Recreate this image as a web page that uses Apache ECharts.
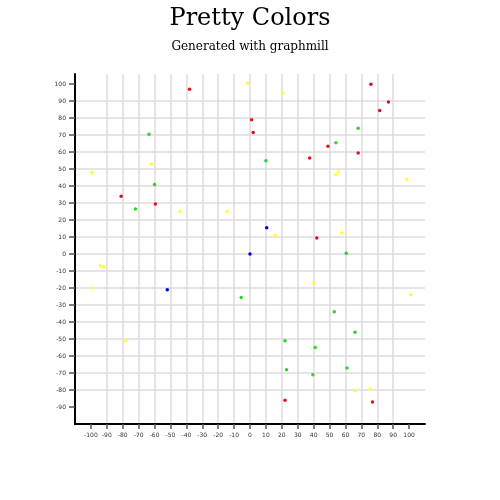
<!DOCTYPE html>
<html lang="en" style="height: 100%">
<head>
  <meta charset="utf-8">
</head>
<body style="height: 100%; margin: 0; background: #fff">
  <div id="container" style="height: 100%"></div>

<script type="text/javascript" src="https://cdn.jsdelivr.net/npm/echarts@6/dist/echarts.min.js"></script>

<script type="text/javascript">
// points per colour as [x, y]
var redPoints = [
  [-38, 97], [1, 79], [2, 71.5], [-81, 34], [-59.5, 29.5], [76, 100],
  [87, 89.5], [81.5, 84.5], [49, 63.5], [68, 59.5], [37.5, 56.5],
  [42, 9.5], [22, -86], [77, -87]
];
var greenPoints = [
  [-63.5, 70.5], [-60, 41], [-72, 26.5], [68, 74], [54, 65.5], [10, 55],
  [60.5, 0.5], [-5.5, -25.5], [53, -34], [66, -46], [22, -51],
  [41, -55], [23, -68], [61, -67], [39.5, -71]
];
var yellowPoints = [
  [-1.5, 100.5], [20.5, 95], [-62, 53], [-99.5, 48], [-44, 25], [-14.5, 25],
  [55.5, 48.5], [54, 47], [98.5, 44], [16, 11], [57.5, 12.5],
  [-94, -7], [-92, -7.5], [-99, -20], [-78, -51], [40, -17], [101, -24],
  [66, -80.5], [75.5, -79.5]
];
var bluePoints = [
  [0, 0], [10.5, 15.5], [-52, -21]
];

var xTicks = [];
for (var v = -100; v <= 100; v += 10) xTicks.push(v);
var yTicks = [];
for (var w = -90; w <= 100; w += 10) yTicks.push(w);

var dom = document.getElementById('container');
var myChart = echarts.init(dom, null, { renderer: 'canvas' });

var labelStyle = {
  fontSize: 6,
  fontFamily: 'DejaVu Sans',
  color: '#333'
};

function dots(name, data, color) {
  return {
    name: name,
    type: 'scatter',
    data: data,
    symbolSize: 3.5,
    itemStyle: { color: color, opacity: 1 },
    silent: true
  };
}

var option = {
  animation: false,
  title: {
    text: 'Pretty Colors',
    subtext: 'Generated with graphmill',
    left: 'center',
    top: 2,
    itemGap: 10,
    textStyle: {
      fontFamily: 'DejaVu Serif',
      fontSize: 24,
      fontWeight: 'normal',
      color: '#000'
    },
    subtextStyle: {
      fontFamily: 'DejaVu Serif',
      fontSize: 12,
      color: '#000'
    }
  },
  grid: { left: 75, right: 75, top: 74, bottom: 76 },
  xAxis: {
    type: 'value',
    min: -110,
    max: 110,
    interval: 10,
    axisLine: { show: true, onZero: false, lineStyle: { color: '#000', width: 2 } },
    axisTick: { show: true, length: 5, customValues: xTicks, lineStyle: { color: '#555', width: 1.5 } },
    axisLabel: Object.assign({ customValues: xTicks, margin: 8 }, labelStyle),
    splitLine: { show: true, showMinLine: false, showMaxLine: false, lineStyle: { color: '#ddd', width: 1.5 } }
  },
  yAxis: {
    type: 'value',
    min: -100,
    max: 106,
    interval: 10,
    axisLine: { show: true, onZero: false, lineStyle: { color: '#000', width: 2 } },
    axisTick: { show: true, length: 6, customValues: yTicks, lineStyle: { color: '#555', width: 1.5 } },
    axisLabel: Object.assign({ customValues: yTicks, margin: 9 }, labelStyle),
    splitLine: { show: true, showMinLine: false, showMaxLine: false, lineStyle: { color: '#ddd', width: 1.5 } }
  },
  series: [
    dots('yellow', yellowPoints, '#ffff33'),
    dots('green', greenPoints, '#33d033'),
    dots('red', redPoints, '#dd1122'),
    dots('blue', bluePoints, '#0000cc')
  ]
};

myChart.setOption(option);
window.addEventListener('resize', myChart.resize);
</script>
</body>
</html>
